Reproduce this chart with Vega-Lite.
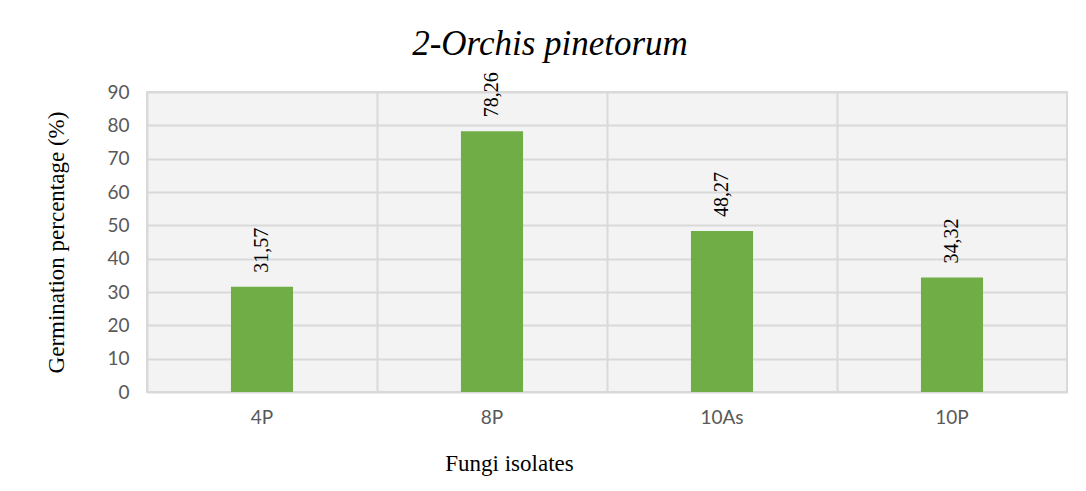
{
  "$schema": "https://vega.github.io/schema/vega-lite/v6.json",
  "autosize": {"type": "none"},
  "width": 920,
  "height": 300,
  "padding": {"left": 147, "top": 92, "right": 19, "bottom": 99},
  "background": "white",
  "title": {
    "text": "2-Orchis pinetorum",
    "font": "Liberation Serif",
    "fontStyle": "italic",
    "fontWeight": "normal",
    "fontSize": 35,
    "color": "#000000",
    "anchor": "middle",
    "frame": "group",
    "dx": -57,
    "offset": 10
  },
  "config": {
    "locale": {"number": {"decimal": ",", "thousands": ".", "grouping": [3], "currency": ["", "€"]}},
    "view": {"fill": "#f3f3f3", "stroke": "#d9d9d9", "strokeWidth": 2}
  },
  "data": {
    "values": [
      {"isolate": "4P", "value": 31.57},
      {"isolate": "8P", "value": 78.26},
      {"isolate": "10As", "value": 48.27},
      {"isolate": "10P", "value": 34.32}
    ]
  },
  "encoding": {
    "x": {
      "field": "isolate",
      "type": "nominal",
      "sort": null,
      "scale": {"paddingInner": 0, "paddingOuter": 0},
      "axis": {
        "title": "Fungi isolates",
        "titleFont": "Liberation Serif",
        "titleFontSize": 23,
        "titleFontWeight": "normal",
        "titleColor": "#000000",
        "titleX": 362,
        "titleY": 71,
        "titleAlign": "center",
        "titleBaseline": "middle",
        "labelAngle": 0,
        "labelFont": "Lato",
        "labelFontSize": 19,
        "labelColor": "#595959",
        "labelPadding": 16,
        "ticks": false,
        "domain": false,
        "grid": true,
        "bandPosition": 0,
        "gridColor": "#d9d9d9",
        "gridWidth": 2
      }
    },
    "y": {
      "field": "value",
      "type": "quantitative",
      "scale": {"domain": [0, 90], "nice": false},
      "axis": {
        "title": "Germination percentage (%)",
        "titleFont": "Liberation Serif",
        "titleFontSize": 23,
        "titleFontWeight": "normal",
        "titleColor": "#000000",
        "titleX": -91,
        "titleY": 150,
        "titleAngle": 270,
        "titleAlign": "center",
        "titleBaseline": "middle",
        "values": [0, 10, 20, 30, 40, 50, 60, 70, 80, 90],
        "labelFont": "Lato",
        "labelFontSize": 19,
        "labelColor": "#595959",
        "labelPadding": 18,
        "ticks": false,
        "domain": false,
        "grid": true,
        "gridColor": "#d9d9d9",
        "gridWidth": 2
      }
    }
  },
  "layer": [
    {"mark": {"type": "bar", "color": "#70AD47", "width": {"band": 0.27}}},
    {
      "mark": {
        "type": "text",
        "angle": 270,
        "align": "left",
        "baseline": "middle",
        "dx": 14,
        "font": "Liberation Serif",
        "fontSize": 20,
        "color": "#000000"
      },
      "encoding": {"text": {"field": "value", "type": "quantitative", "format": ".2f"}}
    }
  ]
}
